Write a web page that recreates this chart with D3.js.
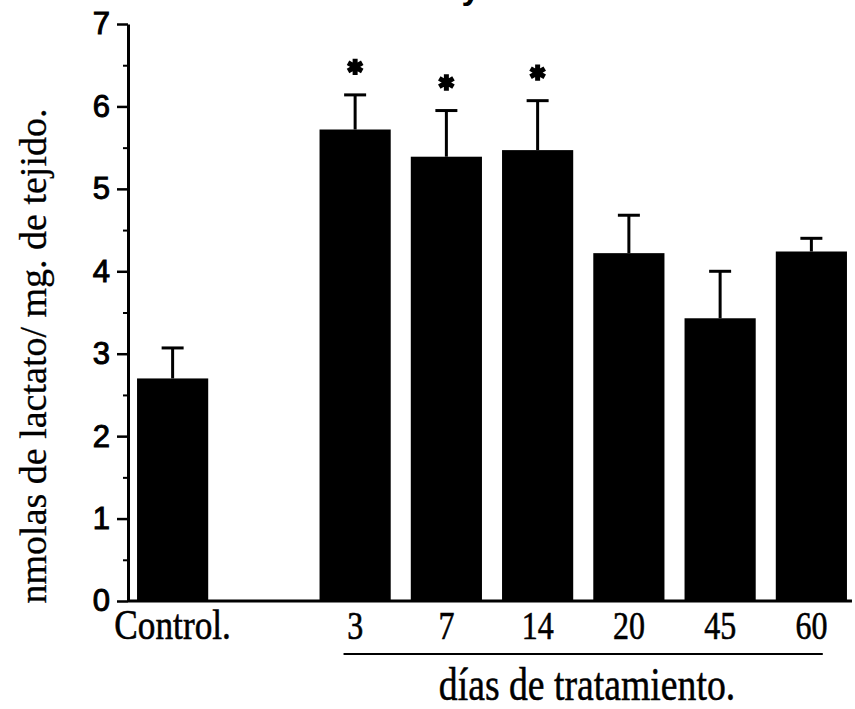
<!DOCTYPE html>
<html>
<head>
<meta charset="utf-8">
<script src="https://cdn.jsdelivr.net/npm/d3@7"></script>
<style>
  html, body { margin: 0; padding: 0; background: #fff; }
  svg { display: block; }
</style>
</head>
<body>
<svg id="chart" width="855" height="709"></svg>
<script>
// values
const categories = ["Control.", "3", "7", "14", "20", "45", "60"];
const means = [2.70, 5.72, 5.39, 5.47, 4.22, 3.43, 4.24];
const errors = [0.37, 0.42, 0.56, 0.60, 0.46, 0.57, 0.16];
const significant = [false, true, true, true, false, false, false];
const yTicks = [0, 1, 2, 3, 4, 5, 6, 7];
const yMinorTicks = [0.5, 1.5, 2.5, 3.5, 4.5, 5.5, 6.5];
const yTitle = "nmolas de lactato/ mg. de tejido.";
const xTitle = "días de tratamiento.";
const treatedDays = categories.slice(1);

const serif = "'Liberation Serif', 'Times New Roman', serif";
const sans = "'Liberation Sans', Arial, sans-serif";

const data = categories.map((c, i) => ({
  cat: c,
  mean: means[i],
  err: errors[i],
  sig: significant[i],
}));

const svg = d3.select("#chart");

// empty slot between control and the treated groups
const domain = [categories[0], "_gap", ...treatedDays];

const x = d3
  .scaleBand()
  .domain(domain)
  .range([127, 857])
  .paddingInner(0.22)
  .paddingOuter(0.11);

const y = d3.scaleLinear().domain([0, 7]).range([601, 24]);
const axisX = 128;

// bars
svg
  .append("g")
  .selectAll("rect")
  .data(data)
  .join("rect")
  .attr("x", (d) => x(d.cat))
  .attr("y", (d) => y(d.mean))
  .attr("width", x.bandwidth())
  .attr("height", (d) => y(0) - y(d.mean))
  .attr("fill", "#000");

// upper error whiskers
const errG = svg.append("g").attr("stroke", "#000").attr("fill", "none");
data.forEach((d) => {
  const cx = x(d.cat) + x.bandwidth() / 2;
  errG
    .append("line")
    .attr("x1", cx)
    .attr("x2", cx)
    .attr("y1", y(d.mean))
    .attr("y2", y(d.mean + d.err))
    .attr("stroke-width", 3);
  errG
    .append("line")
    .attr("x1", cx - 11)
    .attr("x2", cx + 11)
    .attr("y1", y(d.mean + d.err))
    .attr("y2", y(d.mean + d.err))
    .attr("stroke-width", 3);
});

// significance asterisks
const star = d3.symbol(d3.symbolAsterisk, 190);
svg
  .append("g")
  .selectAll("path")
  .data(data.filter((d) => d.sig))
  .join("path")
  .attr("d", star)
  .attr(
    "transform",
    (d) =>
      `translate(${x(d.cat) + x.bandwidth() / 2},${y(d.mean + d.err) - 28})`,
  )
  .attr("fill", "none")
  .attr("stroke", "#000")
  .attr("stroke-width", 5);

// y axis, major ticks
const yAxis = svg
  .append("g")
  .attr("transform", `translate(${axisX},0)`)
  .call(
    d3
      .axisLeft(y)
      .tickValues(yTicks)
      .tickSize(11)
      .tickSizeOuter(0)
      .tickPadding(7)
      .tickFormat(d3.format("d")),
  );
yAxis.select(".domain").attr("stroke-width", 3);
yAxis.selectAll(".tick line").attr("stroke-width", 2.5);
yAxis
  .selectAll(".tick text")
  .attr("font-family", sans)
  .attr("font-size", 31)
  .attr("fill", "#000")
  .attr("stroke", "#000")
  .attr("stroke-width", 1);

// y axis, minor ticks
const yMinor = svg
  .append("g")
  .attr("transform", `translate(${axisX},0)`)
  .call(d3.axisLeft(y).tickValues(yMinorTicks).tickSize(5).tickFormat(""));
yMinor.select(".domain").remove();
yMinor.selectAll(".tick line").attr("stroke-width", 2);

// baseline
const lastCat = categories[categories.length - 1];
svg
  .append("line")
  .attr("x1", axisX)
  .attr("x2", x(lastCat) + x.bandwidth() + 5)
  .attr("y1", y(0))
  .attr("y2", y(0))
  .attr("stroke", "#000")
  .attr("stroke-width", 3);

// category labels
const xAxis = svg
  .append("g")
  .attr("transform", `translate(0,${y(0)})`)
  .call(
    d3
      .axisBottom(x)
      .tickSize(0)
      .tickPadding(0)
      .tickFormat((d) => (d === "_gap" ? "" : d)),
  );
xAxis.select(".domain").remove();
xAxis
  .selectAll(".tick text")
  .attr("dy", null)
  .attr("y", 38)
  .attr("transform", "scale(0.82,1)")
  .attr("font-family", serif)
  .attr("font-size", (d) => (d === categories[0] ? 43 : 39))
  .attr("fill", "#000")
  .attr("stroke", "#000")
  .attr("stroke-width", 0.6);

// line under the treatment days
const firstDay = treatedDays[0];
svg
  .append("line")
  .attr("x1", x(firstDay) + 24)
  .attr("x2", x(lastCat) + 47)
  .attr("y1", 654)
  .attr("y2", 654)
  .attr("stroke", "#000")
  .attr("stroke-width", 2);

// x title
svg
  .append("text")
  .attr("transform", `translate(587,700) scale(0.82,1)`)
  .attr("text-anchor", "middle")
  .attr("font-family", serif)
  .attr("font-size", 46)
  .attr("fill", "#000")
  .attr("stroke", "#000")
  .attr("stroke-width", 0.5)
  .text(xTitle);

// y title
svg
  .append("text")
  .attr("transform", "translate(46,356) rotate(-90)")
  .attr("text-anchor", "middle")
  .attr("font-family", serif)
  .attr("font-size", 38)
  .attr("fill", "#000")
  .attr("stroke", "#000")
  .attr("stroke-width", 0.3)
  .text(yTitle);

// bottom of the cut-off heading above the plot
svg
  .append("text")
  .attr("x", 471)
  .attr("y", -1)
  .attr("text-anchor", "middle")
  .attr("font-family", sans)
  .attr("font-weight", "bold")
  .attr("font-size", 34)
  .attr("fill", "#000")
  .text("y");
</script>
</body>
</html>
